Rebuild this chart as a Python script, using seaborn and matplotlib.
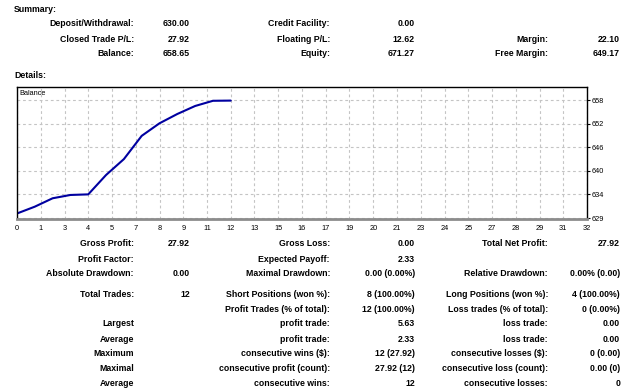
import numpy as np
import matplotlib
matplotlib.use("Agg")
import matplotlib.pyplot as plt
import seaborn as sns

# ---------------- data ----------------
trades = [0, 1, 2, 3, 4, 5, 6, 7, 8, 9, 10, 11, 12]
balance = [630.00, 631.73, 633.86, 634.70, 634.85, 639.77, 643.80,
           649.70, 652.89, 655.25, 657.28, 658.60, 658.65]

x_tick_labels = ["0", "1", "3", "4", "5", "7", "8", "9", "11", "12", "13", "15", "16",
                 "17", "19", "20", "21", "23", "24", "25", "27", "28", "29", "31", "32"]
y_tick_labels = ["629", "634", "640", "646", "652", "658"]

summary_rows = [
    ["Deposit/Withdrawal:", "630.00", "Credit Facility:", "0.00", "", ""],
    ["Closed Trade P/L:", "27.92", "Floating P/L:", "12.62", "Margin:", "22.10"],
    ["Balance:", "658.65", "Equity:", "671.27", "Free Margin:", "649.17"],
]

details_rows = [
    ["Gross Profit:", "27.92", "Gross Loss:", "0.00", "Total Net Profit:", "27.92"],
    ["Profit Factor:", "", "Expected Payoff:", "2.33", "", ""],
    ["Absolute Drawdown:", "0.00", "Maximal Drawdown:", "0.00 (0.00%)", "Relative Drawdown:", "0.00% (0.00)"],
    ["Total Trades:", "12", "Short Positions (won %):", "8 (100.00%)", "Long Positions (won %):", "4 (100.00%)"],
    ["", "", "Profit Trades (% of total):", "12 (100.00%)", "Loss trades (% of total):", "0 (0.00%)"],
    ["Largest", "", "profit trade:", "5.63", "loss trade:", "0.00"],
    ["Average", "", "profit trade:", "2.33", "loss trade:", "0.00"],
    ["Maximum", "", "consecutive wins ($):", "12 (27.92)", "consecutive losses ($):", "0 (0.00)"],
    ["Maximal", "", "consecutive profit (count):", "27.92 (12)", "consecutive loss (count):", "0.00 (0)"],
    ["Average", "", "consecutive wins:", "12", "consecutive losses:", "0"],
]

# ---------------- layout ----------------
W, H = 625, 389
sns.set_style("white")
plt.rcParams["font.family"] = ["Liberation Sans", "DejaVu Sans"]

fig = plt.figure(figsize=(W / 100, H / 100), dpi=100)
fig.patch.set_facecolor("white")

def fx(px):
    return px / W

def fy(py):
    return 1 - py / H

FS = 6.3
col_x = [134, 190, 330, 415, 548, 620]

def put(px, py, s, ha="right"):
    fig.text(fx(px), fy(py), s, ha=ha, va="center", fontsize=FS,
             fontweight="bold", color="black")

put(14, 10, "Summary:", ha="left")
for row, py in zip(summary_rows, [24, 39, 54]):
    for s, px in zip(row, col_x):
        if s:
            put(px, py, s)
put(14, 75, "Details:", ha="left")

detail_y = [244, 259, 274, 294.5, 309, 324, 339, 353.5, 368.5, 383.5]
for row, py in zip(details_rows, detail_y):
    for s, px in zip(row, col_x):
        if s:
            put(px, py, s)

# ---------------- chart ----------------
left, right, top, bottom = 17, 587, 87, 219
ax = fig.add_axes([fx(left), fy(bottom), fx(right - left), (bottom - top) / H])
ax.set_facecolor("white")

sns.lineplot(x=trades, y=balance, ax=ax, color="#0000a0", linewidth=1.5)

ax.set_xlim(0, 32)
ax.set_ylim(628.6, 662.1)
xt = np.linspace(0, 32, len(x_tick_labels))
ax.set_xticks(xt)
ax.set_xticklabels(x_tick_labels, fontsize=5.3)
yt = np.linspace(628.85, 658.7, len(y_tick_labels))
ax.set_yticks(yt)
ax.set_yticklabels(y_tick_labels, fontsize=5.3)
ax.yaxis.tick_right()
ax.tick_params(axis="both", length=2, width=0.8, color="black", pad=1.5,
               labelcolor="black")
ax.tick_params(axis="x", pad=2.5)
ax.grid(True, linestyle=(0, (2.5, 2.5)), color="#c4c4c4", linewidth=0.8)
for side in ["top", "left", "right"]:
    ax.spines[side].set_color("black")
    ax.spines[side].set_linewidth(1.0)
    ax.spines[side].set_visible(True)
ax.spines["bottom"].set_color("#8c8c8c")
ax.spines["bottom"].set_linewidth(2.0)
ax.spines["bottom"].set_visible(True)
ax.set_xlabel("")
ax.set_ylabel("")
ax.text(0.004, 0.975, "Balance", transform=ax.transAxes, fontsize=5.3,
        ha="left", va="top", color="black")

fig.savefig("out.png", dpi=100, facecolor="white")
